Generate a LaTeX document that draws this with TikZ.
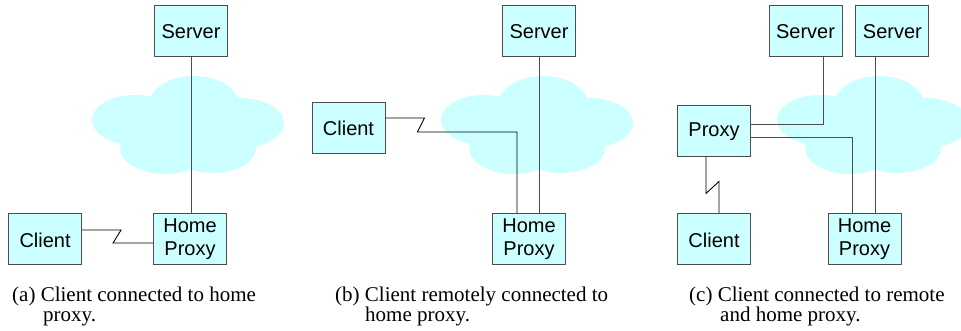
\documentclass[tikz,border=0pt]{standalone}
\usepackage{fontspec}
\setmainfont{Liberation Serif}
\setsansfont{Liberation Sans}
\usetikzlibrary{positioning,calc}
\definecolor{boxcyan}{RGB}{204,255,255}
\definecolor{edge}{RGB}{77,77,77}
\newcommand{\netcloud}[1]{%
  \begin{scope}[shift={#1}]
    \fill[boxcyan] (-53,-5) ellipse [x radius=43,y radius=25];
    \fill[boxcyan] (6,-20) ellipse [x radius=45,y radius=29];
    \fill[boxcyan] (52,-2) ellipse [x radius=44,y radius=25];
    \fill[boxcyan] (-23,23) ellipse [x radius=45,y radius=26];
    \fill[boxcyan] (25,23) ellipse [x radius=43,y radius=25];
    \fill[boxcyan] (0,5) ellipse [x radius=50,y radius=25];
  \end{scope}}
\tikzset{
  unit/.style={draw=edge,fill=boxcyan,line width=0.9pt,minimum width=73pt,minimum height=51pt,inner sep=0pt,align=center,
    execute at begin node={\rule{0pt}{17pt}},font=\sffamily\fontsize{20}{22.5}\selectfont},
  wire/.style={line width=0.9pt,black!70},
  zig/.style={line width=0.9pt,black},
  capt/.style={anchor=north west,inner sep=0pt,align=left,font=\fontsize{21}{20}\selectfont},
}

\begin{document}
\begin{tikzpicture}[x=1pt,y=-1pt]
  \clip (0,0) rectangle (961,331);
  \netcloud{(188,125)}
  \netcloud{(537,125)}
  \netcloud{(873,125)}

  \node[unit] (srvA) at (191,30.5) {Server};
  \node[unit] (homeA) at (190,239) {Home\\Proxy};
  \node[unit,left=71pt of homeA] (cliA) {Client};
  \draw[wire] (srvA.south) -- (srvA.south |- homeA.north);
  \draw[zig] ([yshift=9pt]cliA.east) -- ++(39,0) -- ++(-8,13) coordinate (za) -- (za -| homeA.west);

  \node[unit] (srvB) at (539,30.5) {Server};
  \node[unit] (homeB) at (529,239) {Home\\Proxy};
  \node[unit] (cliB) at (348.5,127.5) {Client};
  \draw[wire] (srvB.south) -- (srvB.south |- homeB.north);
  \draw[zig] ([yshift=9.5pt]cliB.east) -- ++(39,0) -- ++(-7,14) coordinate (zb) -| ([xshift=-12pt]homeB.north);

  \node[unit] (srvC) at (805.5,30.5) {Server};
  \node[unit,right=13pt of srvC] (srvD) {Server};
  \node[unit] (proxy) at (714,130.5) {Proxy};
  \node[unit] (cliC) at (714,239) {Client};
  \node[unit] (homeC) at (864.5,239) {Home\\Proxy};
  \draw[wire] ([yshift=6.5pt]proxy.east) -| ([xshift=17.5pt]srvC.south);
  \draw[wire] ([yshift=-6.5pt]proxy.east) -| ([xshift=-12.5pt]homeC.north);
  \draw[wire] ([xshift=-16.5pt]srvD.south) -- ([xshift=-16.5pt]srvD.south |- homeC.north);
  \draw[zig] ([xshift=-8pt]proxy.south) -- ++(0,37) -- ++(13,-12) coordinate (zc) -- (zc |- cliC.north);

  \node[capt] (capA) at (12,286.5) {(a) Client connected to home\\\hspace*{31pt}proxy.};
  \node[capt] (capB) at (335,286.5) {(b) Client remotely connected to\\\hspace*{30pt}home proxy.};
  \node[capt] (capC) at (689,286.5) {(c) Client connected to remote\\\hspace*{31pt}and home proxy.};
\end{tikzpicture}
\end{document}
